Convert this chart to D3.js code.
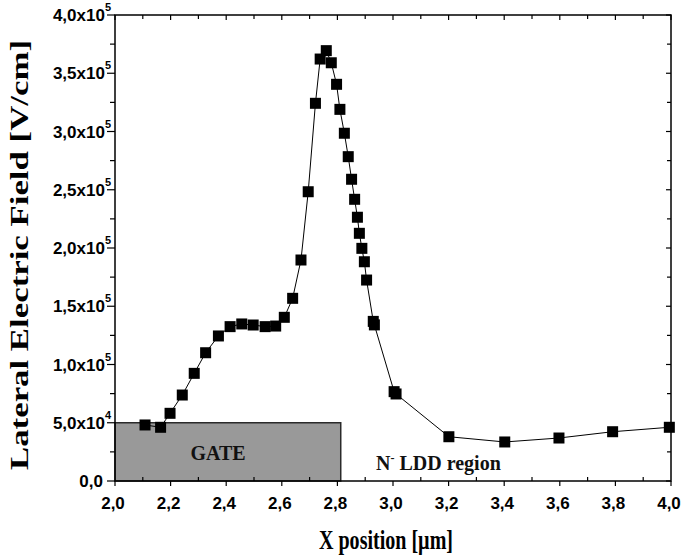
<!DOCTYPE html>
<html>
<head>
<meta charset="utf-8">
<script src="https://cdn.jsdelivr.net/npm/d3@7"></script>
<style>
  body { margin: 0; background: #fff; }
  svg { display: block; }
</style>
</head>
<body>
<div id="chart"></div>
<script>
// x position [um] and lateral field [V/cm]
const xPos = [2.108, 2.164, 2.198, 2.242, 2.285, 2.326, 2.372, 2.414, 2.456, 2.497,
  2.540, 2.578, 2.609, 2.639, 2.669, 2.695, 2.721, 2.738, 2.760, 2.778,
  2.797, 2.809, 2.825, 2.839, 2.851, 2.862, 2.872, 2.879, 2.888, 2.897,
  2.905, 2.929, 2.933, 3.004, 3.011, 3.201, 3.402, 3.597, 3.790, 3.994];
const field = [48100, 46100, 58100, 73800, 92400, 110100, 124500, 132500, 134800, 133900,
  132500, 133000, 140500, 156800, 189700, 248300, 324200, 362200, 369400, 359000,
  340500, 319000, 298500, 278400, 259000, 241800, 226400, 212600, 199700, 188200,
  172500, 137000, 134000, 76700, 74700, 38000, 33500, 36900, 42300, 46100];

const xTicks = [2.0, 2.2, 2.4, 2.6, 2.8, 3.0, 3.2, 3.4, 3.6, 3.8, 4.0];
const yTicks = [0, 50000, 100000, 150000, 200000, 250000, 300000, 350000, 400000];
const yTickMain = ["0,0", "5,0x10", "1,0x10", "1,5x10", "2,0x10", "2,5x10", "3,0x10", "3,5x10", "4,0x10"];
const yTickExp = ["", "4", "5", "5", "5", "5", "5", "5", "5"];

// gate region drawn as shaded box
const gateX = [2.0, 2.812];
const gateY = [0, 50000];

const W = 685, H = 556;
const margin = { left: 115, right: 14, top: 15, bottom: 75 };

const svg = d3.select("#chart").append("svg")
  .attr("width", W).attr("height", H);

const x = d3.scaleLinear().domain([2, 4]).range([margin.left, W - margin.right]);
const y = d3.scaleLinear().domain([0, 400000]).range([H - margin.bottom, margin.top]);

const x0 = x.range()[0], x1 = x.range()[1];
const y0 = y.range()[0], y1 = y.range()[1];

const serif = "'Liberation Serif', 'Times New Roman', serif";
const sans = "'Liberation Sans', Arial, sans-serif";

// gate box
svg.append("rect")
  .attr("x", x(gateX[0]))
  .attr("y", y(gateY[1]))
  .attr("width", x(gateX[1]) - x(gateX[0]))
  .attr("height", y(gateY[0]) - y(gateY[1]))
  .attr("fill", "#999999")
  .attr("stroke", "#2a2a2a")
  .attr("stroke-width", 1.5);

svg.append("text")
  .attr("x", 218).attr("y", 460)
  .attr("text-anchor", "middle")
  .style("font-family", serif)
  .style("font-weight", "bold")
  .style("font-size", "20px")
  .attr("fill", "#111")
  .text("GATE");

const ldd = svg.append("text")
  .attr("x", 376).attr("y", 470)
  .style("font-family", serif)
  .style("font-weight", "bold")
  .style("font-size", "20px")
  .attr("fill", "#111");
ldd.append("tspan").text("N");
ldd.append("tspan").attr("dy", -8).style("font-size", "12px").text("-");
ldd.append("tspan").attr("dy", 8).text(" LDD region");

// frame axes
const minorX = d3.range(2.1, 4.0, 0.2);
const minorY = d3.range(25000, 400000, 50000);

const axisG = svg.append("g").attr("stroke", "#000").attr("fill", "none");

axisG.append("rect")
  .attr("x", x0).attr("y", y1)
  .attr("width", x1 - x0).attr("height", y0 - y1)
  .attr("stroke-width", 1.5);

// majors outward on bottom/left, minors inward; top/right inward
xTicks.forEach(v => {
  axisG.append("line").attr("x1", x(v)).attr("x2", x(v)).attr("y1", y0).attr("y2", y0 + 5).attr("stroke-width", 1.2);
  axisG.append("line").attr("x1", x(v)).attr("x2", x(v)).attr("y1", y1).attr("y2", y1 + 5).attr("stroke-width", 1.2);
});
minorX.forEach(v => {
  axisG.append("line").attr("x1", x(v)).attr("x2", x(v)).attr("y1", y0).attr("y2", y0 - 4).attr("stroke-width", 1.2);
  axisG.append("line").attr("x1", x(v)).attr("x2", x(v)).attr("y1", y1).attr("y2", y1 + 4).attr("stroke-width", 1.2);
});
yTicks.forEach(v => {
  axisG.append("line").attr("x1", x0 - 8).attr("x2", x0).attr("y1", y(v)).attr("y2", y(v)).attr("stroke-width", 1.2);
  axisG.append("line").attr("x1", x1 - 5).attr("x2", x1).attr("y1", y(v)).attr("y2", y(v)).attr("stroke-width", 1.2);
});
minorY.forEach(v => {
  axisG.append("line").attr("x1", x0 - 5).attr("x2", x0).attr("y1", y(v)).attr("y2", y(v)).attr("stroke-width", 1.2);
  axisG.append("line").attr("x1", x1 - 4).attr("x2", x1).attr("y1", y(v)).attr("y2", y(v)).attr("stroke-width", 1.2);
});

svg.append("g").selectAll("text")
  .data(xTicks)
  .enter().append("text")
    .attr("x", d => x(d) - 2)
    .attr("y", y0 + 28)
    .attr("text-anchor", "middle")
    .style("font-family", sans)
    .style("font-weight", "bold")
    .style("font-size", "17px")
    .text(d => d3.format(".1f")(d).replace(".", ","));

const yLab = svg.append("g").selectAll("text")
  .data(yTicks)
  .enter().append("text")
    .attr("x", d => d === 0 ? x0 - 12 : x0 - 4)
    .attr("y", d => y(d) + 6)
    .attr("text-anchor", "end")
    .style("font-family", sans)
    .style("font-weight", "bold")
    .style("font-size", "17px");
yLab.append("tspan")
  .text((d, i) => yTickMain[i]);
yLab.append("tspan")
  .attr("dy", -10)
  .style("font-size", "11px")
  .text((d, i) => yTickExp[i]);

// titles
svg.append("text")
  .attr("x", 386).attr("y", 549)
  .attr("text-anchor", "middle")
  .attr("textLength", 134)
  .attr("lengthAdjust", "spacingAndGlyphs")
  .style("font-family", serif)
  .style("font-weight", "bold")
  .style("font-size", "27px")
  .text("X position [\u00b5m]");

svg.append("text")
  .attr("transform", "translate(28,255) rotate(-90)")
  .attr("text-anchor", "middle")
  .attr("textLength", 430)
  .attr("lengthAdjust", "spacingAndGlyphs")
  .style("font-family", serif)
  .style("font-weight", "bold")
  .style("font-size", "26px")
  .text("Lateral Electric Field [V/cm]");

// data line + square markers
const pts = xPos.map((v, i) => [v, field[i]]);
const line = d3.line().x(d => x(d[0])).y(d => y(d[1]));

svg.append("path")
  .datum(pts)
  .attr("d", line)
  .attr("fill", "none")
  .attr("stroke", "#000")
  .attr("stroke-width", 1);

const ms = 11;
svg.append("g").selectAll("rect")
  .data(pts)
  .enter().append("rect")
    .attr("x", d => x(d[0]) - ms / 2)
    .attr("y", d => y(d[1]) - ms / 2)
    .attr("width", ms)
    .attr("height", ms)
    .attr("fill", "#000");
</script>
</body>
</html>
